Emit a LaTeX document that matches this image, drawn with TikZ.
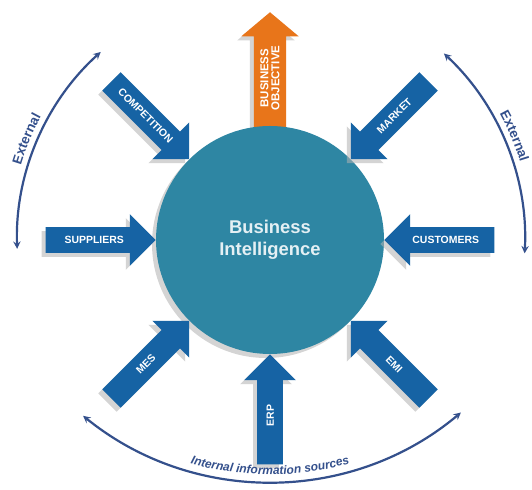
\documentclass[tikz,border=0pt]{standalone}
\usepackage{fontspec}
\setmainfont{Liberation Sans}
\usepackage{tikz}
\usetikzlibrary{arrows}
\usetikzlibrary{shapes.arrows,shadows,decorations.text}

\definecolor{bicircle}{RGB}{46,134,163}
\definecolor{inblue}{RGB}{22,99,164}
\definecolor{objorange}{RGB}{232,117,26}
\definecolor{arcblue}{RGB}{52,80,140}
\definecolor{bitext}{RGB}{228,240,244}

\tikzset{
  softshadow/.style={drop shadow={shadow xshift=-4bp, shadow yshift=-4bp,
      fill=black!30, opacity=.55}},
  srcarrow/.style={single arrow, fill=inblue, text=white, anchor=tip,
      minimum height=110bp, single arrow head extend=13bp,
      single arrow tip angle=90, text height=7.5bp, text depth=0bp,
      inner ysep=9bp, inner xsep=0bp, softshadow,
      font=\fontsize{10.5}{10.5}\selectfont\bfseries},
  rangearc/.style={draw=arcblue, line width=2.2bp, stealth-stealth},
  arclabel/.style={decorate, decoration={text along path, text align=center,
      text color=arcblue, text={#1}}},
}

\begin{document}
\begin{tikzpicture}[x=1bp, y=1bp]
        \path[use as bounding box, fill=white] (0,0) rectangle (532,490);

        % goal, partly behind the circle
        \node[single arrow, fill=objorange, text=white, anchor=tip, rotate=90,
          minimum height=118bp, single arrow head extend=12.5bp,
          single arrow tip angle=100, inner ysep=6.5bp, inner xsep=0bp,
          align=center, softshadow,
          font=\fontsize{11.5}{11}\selectfont\bfseries]
          (obj) at (270,478) {BUSINESS\\OBJECTIVE};

        \node[circle, fill=bicircle, minimum size=228bp, inner sep=0pt,
          outer sep=0pt, text=bitext, align=center, softshadow,
          font=\fontsize{18.5}{22}\selectfont\bfseries]
          (bi) at (270,250) {Business\\Intelligence};

        % sources
        \foreach \ang/\rot/\flip/\lbl in {135/-45/0/COMPETITION,
            45/45/180/MARKET, 180/0/0/SUPPLIERS, 0/0/180/CUSTOMERS,
            225/45/0/MES, 270/90/0/ERP, 315/-45/180/EMI}
          \node[srcarrow, rotate=\rot, shape border rotate=\flip]
            (src\ang) at (bi.\ang) {\lbl};

        \coordinate (low) at (270,305);

        \draw[rangearc] (bi.center) ++(132:253)
          arc[start angle=132, end angle=182, radius=253];
        \draw[rangearc] (bi.center) ++(47:255)
          arc[start angle=47, end angle=-3, radius=255];
        \draw[rangearc] (low) ++(231:297)
          arc[start angle=231, end angle=310, radius=297];

        \path[arclabel={|\fontsize{13.5}{13.5}\selectfont\bfseries|External}]
          (bi.center) ++(175:260) arc[start angle=175, end angle=140, radius=260];
        \path[arclabel={|\fontsize{13.5}{13.5}\selectfont\bfseries|External}]
          (bi.center) ++(45:262) arc[start angle=45, end angle=1, radius=262];
        \path[arclabel={|\fontsize{12}{12}\selectfont\bfseries\itshape|Internal information sources}]
          (low) ++(248:289.5) arc[start angle=248, end angle=292, radius=289.5];
      \end{tikzpicture}
\end{document}
